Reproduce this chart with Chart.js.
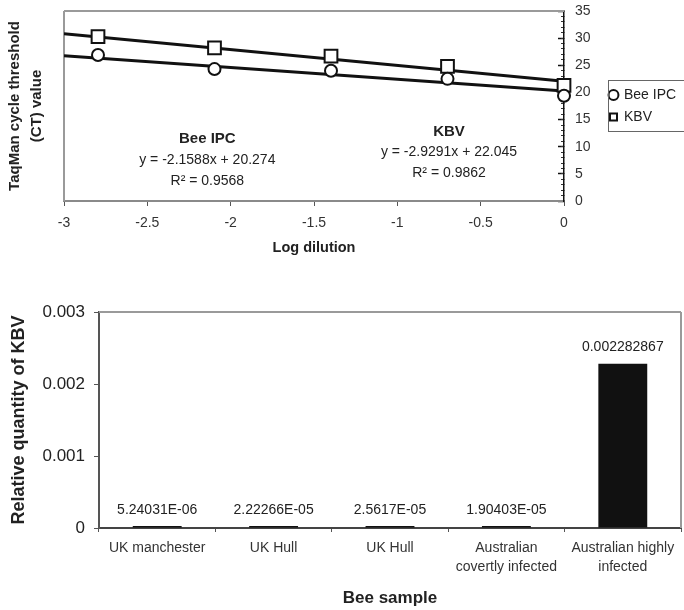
<!DOCTYPE html>
<html>
<head>
<meta charset="utf-8">
<script src="https://cdn.jsdelivr.net/npm/chart.js@4.4.1/dist/chart.umd.min.js"></script>
<style>
  body { margin: 0; background: #fff; }
  #ctBox { position: absolute; left: 0; top: 0; width: 684px; height: 270px; }
  #kbvBox { position: absolute; left: 0; top: 290px; width: 684px; height: 320px; }
</style>
</head>
<body>
<div id="ctBox"><canvas id="ctChart"></canvas></div>
<div id="kbvBox"><canvas id="kbvChart"></canvas></div>
<script>
// standard curve data
const logDilution = [-2.796, -2.097, -1.398, -0.699, 0];
const beeIpcCt = [26.9, 24.3, 24.0, 22.5, 19.4];
const kbvCt = [30.3, 28.2, 26.7, 24.8, 21.3];
const fitRange = [-3, 0];
const beeIpcFit = [26.75, 20.27];
const kbvFit = [30.83, 22.05];
const dilutionTicks = [-3, -2.5, -2, -1.5, -1, -0.5, 0];
const ctTicks = [0, 5, 10, 15, 20, 25, 30, 35];

// relative quantity data
const sampleNames = ['UK manchester', 'UK Hull', 'UK Hull', ['Australian', 'covertly infected'], ['Australian highly', 'infected']];
const kbvQuantity = [5.24031e-6, 2.22266e-5, 2.5617e-5, 1.90403e-5, 0.002282867];
const quantityTicks = [0, 0.001, 0.002, 0.003];

const fitNotes = [
    { x: -2.14, y: 11.4, text: 'Bee IPC', bold: true },
    { x: -2.14, y: 7.55, text: 'y = -2.1588x + 20.274' },
    { x: -2.14, y: 3.7, text: 'R² = 0.9568' },
    { x: -0.69, y: 12.7, text: 'KBV', bold: true },
    { x: -0.69, y: 9.0, text: 'y = -2.9291x + 22.045' },
    { x: -0.69, y: 5.15, text: 'R² = 0.9862' }
];

const FONT = "'Liberation Sans', Arial, Helvetica, sans-serif";
Chart.defaults.font.family = FONT;
Chart.defaults.color = '#222';
Chart.defaults.animation = false;

const pairs = (xs, ys) => xs.map((x, i) => ({ x: x, y: ys[i] }));

// Excel "General" style number text
function excelGeneral(v) {
    if (v !== 0 && Math.abs(v) < 1e-4) {
        let [m, e] = v.toExponential(5).split('e');
        m = m.replace(/\.?0+$/, '');
        const n = parseInt(e, 10);
        return m + 'E' + (n < 0 ? '-' : '+') + String(Math.abs(n)).padStart(2, '0');
    }
    return String(v);
}

const plotFrame = {
    id: 'plotFrame',
    beforeDatasetsDraw(chart, args, opts) {
        const { ctx, chartArea: a } = chart;
        ctx.save();
        ctx.strokeStyle = opts.color;
        ctx.lineWidth = 2;
        ctx.beginPath();
        opts.sides.forEach(side => {
            if (side === 'top') { ctx.moveTo(a.left, a.top); ctx.lineTo(a.right, a.top); }
            if (side === 'left') { ctx.moveTo(a.left, a.top); ctx.lineTo(a.left, a.bottom); }
            if (side === 'right') { ctx.moveTo(a.right, a.top); ctx.lineTo(a.right, a.bottom); }
        });
        ctx.stroke();
        ctx.restore();
    }
};

const fitLabels = {
    id: 'fitLabels',
    afterDatasetsDraw(chart) {
        const { ctx, scales } = chart;
        ctx.save();
        ctx.fillStyle = '#222';
        ctx.textAlign = 'center';
        ctx.textBaseline = 'middle';
        fitNotes.forEach(n => {
            ctx.font = n.bold ? `bold 15px ${FONT}` : `14px ${FONT}`;
            ctx.fillText(n.text, scales.x.getPixelForValue(n.x), scales.y.getPixelForValue(n.y));
        });
        ctx.restore();
    }
};

const legendBox = {
    id: 'legendBox',
    afterDraw(chart) {
        const lg = chart.legend;
        if (!lg || !lg.legendHitBoxes || !lg.legendHitBoxes.length) return;
        const hb = lg.legendHitBoxes;
        const top = hb[0].top - 8;
        const bottom = hb[hb.length - 1].top + hb[hb.length - 1].height + 7;
        const { ctx } = chart;
        ctx.save();
        ctx.strokeStyle = '#666';
        ctx.lineWidth = 1;
        ctx.strokeRect(lg.left + 6.5, top + 0.5, chart.width, bottom - top);
        ctx.restore();
    }
};

const ctCtx = document.getElementById('ctChart').getContext('2d');
const ctChart = new Chart(ctCtx, {
    type: 'scatter',
    data: {
        datasets: [
            { label: 'Bee IPC', data: pairs(logDilution, beeIpcCt), yAxisID: 'y', pointStyle: 'circle', pointRadius: 6, pointBorderWidth: 2, borderColor: '#111', backgroundColor: '#fff', pointBackgroundColor: '#fff', pointBorderColor: '#111', clip: false },
            { label: 'KBV', data: pairs(logDilution, kbvCt), yAxisID: 'y', pointStyle: 'rect', pointRadius: 9, pointBorderWidth: 2, borderColor: '#111', backgroundColor: '#fff', pointBackgroundColor: '#fff', pointBorderColor: '#111', clip: false },
            { label: 'Bee IPC fit', data: pairs(fitRange, beeIpcFit), yAxisID: 'y', showLine: true, borderColor: '#111', borderWidth: 3, pointRadius: 0 },
            { label: 'KBV fit', data: pairs(fitRange, kbvFit), yAxisID: 'y', showLine: true, borderColor: '#111', borderWidth: 3, pointRadius: 0 }
        ]
    },
    options: {
        responsive: true,
        maintainAspectRatio: false,
        layout: { padding: { left: 0, right: 0, top: 11, bottom: 9 } },
        scales: {
            x: {
                type: 'linear', min: -3, max: 0,
                afterBuildTicks: s => { s.ticks = dilutionTicks.map(v => ({ value: v })); },
                afterFit: s => { s.height = 60; },
                grid: { drawOnChartArea: false, tickLength: 5, tickColor: '#555' },
                border: { color: '#8a8a8a', width: 2 },
                ticks: { padding: 9, font: { size: 14 }, color: '#333', callback: v => String(v) },
                title: { display: true, text: 'Log dilution', font: { size: 14.5, weight: 'bold' }, color: '#222', padding: { top: 0, bottom: 4 } }
            },
            // inward major ticks
            yMajor: {
                position: 'right', min: 0, max: 35, weight: 0,
                afterBuildTicks: s => { s.ticks = ctTicks.map(v => ({ value: v })); },
                afterFit: s => { s.width = 0; },
                grid: { drawOnChartArea: false, tickLength: -6, tickColor: '#111', tickWidth: 1.5 },
                border: { display: false },
                ticks: { display: false }
            },
            // axis line + inward minor ticks
            yMinor: {
                position: 'right', min: 0, max: 35, weight: 1,
                afterBuildTicks: s => { s.ticks = Array.from({ length: 36 }, (_, v) => ({ value: v })); },
                afterFit: s => { s.width = 9; },
                grid: { drawOnChartArea: false, tickLength: -3, tickColor: '#333' },
                border: { color: '#111', width: 1.5 },
                ticks: { display: false }
            },
            y: {
                position: 'right', min: 0, max: 35, weight: 2,
                afterBuildTicks: s => { s.ticks = ctTicks.map(v => ({ value: v })); },
                afterFit: s => { s.width = 29; },
                grid: { display: false, drawTicks: false },
                border: { display: false },
                ticks: { padding: 2, font: { size: 14 }, color: '#333' }
            },
            yTitle: {
                position: 'left',
                afterFit: s => { s.width = 64; },
                grid: { display: false },
                border: { display: false },
                ticks: { display: false },
                title: { display: true, text: ['TaqMan cycle threshold', '(CT) value'], font: { size: 15, weight: 'bold', lineHeight: 1.45 }, color: '#222', padding: { top: 4, bottom: 0 } }
            }
        },
        plugins: {
            legend: {
                position: 'right', fullSize: false, maxWidth: 82,
                labels: {
                    usePointStyle: true, boxWidth: 7, boxHeight: 7, padding: 8,
                    color: '#222', font: { size: 14 },
                    filter: item => item.datasetIndex < 2
                }
            },
            tooltip: { enabled: false },
            plotFrame: { color: '#9a9a9a', sides: ['top', 'left'] }
        }
    },
    plugins: [plotFrame, fitLabels, legendBox]
});

const barValueLabels = {
    id: 'barValueLabels',
    afterDatasetsDraw(chart) {
        const { ctx } = chart;
        const meta = chart.getDatasetMeta(0);
        ctx.save();
        ctx.fillStyle = '#222';
        ctx.font = `14px ${FONT}`;
        ctx.textAlign = 'center';
        ctx.textBaseline = 'middle';
        meta.data.forEach((bar, i) => {
            ctx.fillText(excelGeneral(kbvQuantity[i]), bar.x, bar.y - 16);
        });
        ctx.restore();
    }
};

const kbvCtx = document.getElementById('kbvChart').getContext('2d');
const kbvChart = new Chart(kbvCtx, {
    type: 'bar',
    data: {
        labels: sampleNames,
        datasets: [{
            label: 'Relative quantity of KBV',
            data: kbvQuantity,
            backgroundColor: '#111',
            barPercentage: 0.42,
            categoryPercentage: 1,
            minBarLength: 2
        }]
    },
    options: {
        responsive: true,
        maintainAspectRatio: false,
        layout: { padding: { left: 0, right: 3, top: 22, bottom: 0 } },
        scales: {
            x: {
                afterFit: s => { s.height = 82; },
                grid: { drawOnChartArea: false, tickLength: 4, tickColor: '#555' },
                border: { color: '#444', width: 2 },
                ticks: { padding: 7, font: { size: 14, lineHeight: 1.35 }, color: '#333', maxRotation: 0, autoSkip: false },
                title: { display: true, text: 'Bee sample', font: { size: 17, weight: 'bold' }, color: '#222', padding: { top: 0, bottom: 1 } }
            },
            y: {
                min: 0, max: 0.003,
                afterBuildTicks: s => { s.ticks = quantityTicks.map(v => ({ value: v })); },
                afterFit: s => { s.width = 99; },
                grid: { drawOnChartArea: false, tickLength: 5, tickColor: '#555' },
                border: { color: '#555', width: 2 },
                ticks: { padding: 9, font: { size: 17 }, color: '#222', callback: v => v === 0 ? '0' : v.toFixed(3) },
                title: { display: true, text: 'Relative quantity of KBV', font: { size: 18, weight: 'bold' }, color: '#222', padding: { top: 8, bottom: 0 } }
            }
        },
        plugins: {
            legend: { display: false },
            tooltip: { enabled: false },
            plotFrame: { color: '#9a9a9a', sides: ['top', 'right'] }
        }
    },
    plugins: [plotFrame, barValueLabels]
});
</script>
</body>
</html>
